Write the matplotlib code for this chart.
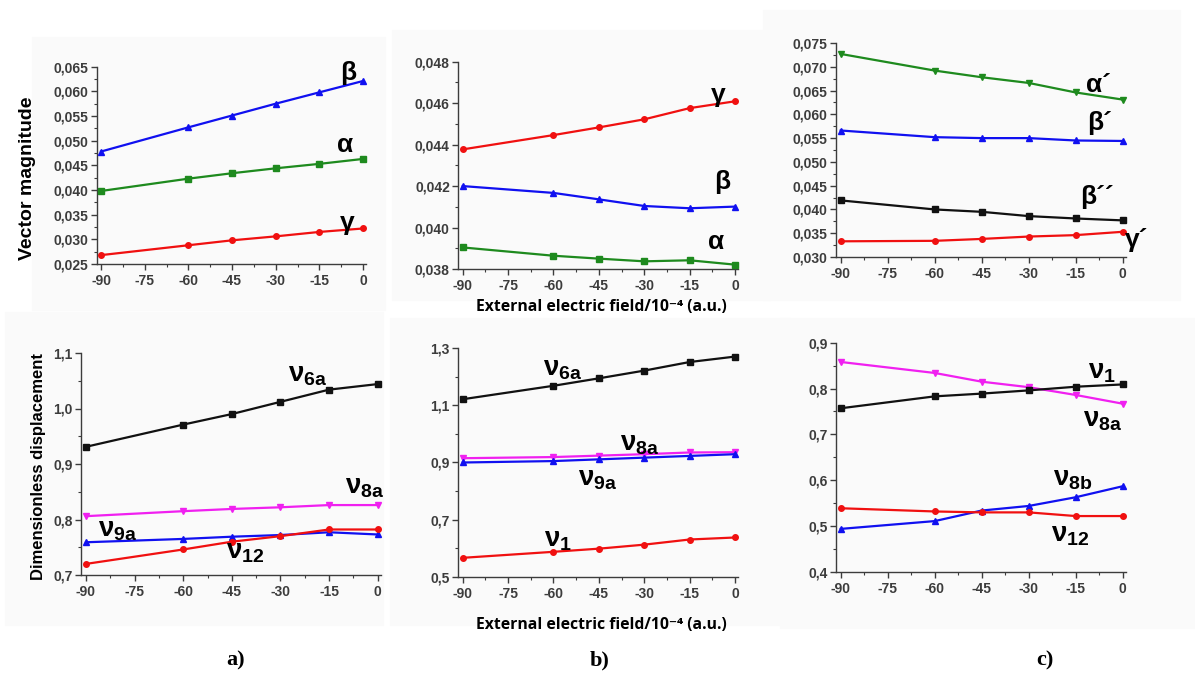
import matplotlib
matplotlib.use("Agg")
import matplotlib.pyplot as plt
from matplotlib.patches import Rectangle
from matplotlib.ticker import MultipleLocator, FuncFormatter

plt.rcParams['font.family'] = ['Liberation Sans', 'DejaVu Sans']
plt.rcParams['font.weight'] = 'bold'
plt.rcParams['mathtext.fontset'] = 'custom'
plt.rcParams['mathtext.rm'] = 'Liberation Sans:bold'
plt.rcParams['mathtext.bf'] = 'Liberation Sans:bold'
plt.rcParams['mathtext.it'] = 'Liberation Sans:bold'

W, H = 1195, 673

# --- data ---
field = [-90, -60, -45, -30, -15, 0]

# top row: vector magnitude
a_beta = [0.0478, 0.0527, 0.0551, 0.0575, 0.0598, 0.0621]
a_alpha = [0.0398, 0.0423, 0.0434, 0.0444, 0.0453, 0.0463]
a_gamma = [0.0268, 0.0288, 0.0298, 0.0306, 0.0315, 0.0322]

b_gamma = [0.04377, 0.04446, 0.04483, 0.04522, 0.04576, 0.04609]
b_beta = [0.04200, 0.04167, 0.04136, 0.04104, 0.04093, 0.04101]
b_alpha = [0.03904, 0.03864, 0.03850, 0.03837, 0.03842, 0.03821]

c_alpha1 = [0.0727, 0.0692, 0.0678, 0.0666, 0.0646, 0.0631]
c_beta1 = [0.0566, 0.0552, 0.0550, 0.0550, 0.0545, 0.0544]
c_beta2 = [0.0419, 0.0400, 0.0395, 0.0386, 0.0381, 0.0377]
c_gamma1 = [0.0333, 0.0334, 0.0338, 0.0343, 0.0346, 0.0353]

# bottom row: dimensionless displacement
d_nu6a = [0.931, 0.971, 0.990, 1.012, 1.034, 1.044]
d_nu8a = [0.806, 0.815, 0.819, 0.822, 0.826, 0.826]
d_nu9a = [0.759, 0.765, 0.769, 0.772, 0.777, 0.773]
d_nu12 = [0.720, 0.746, 0.760, 0.770, 0.782, 0.782]

e_nu6a = [1.121, 1.168, 1.194, 1.221, 1.251, 1.270]
e_nu8a = [0.915, 0.919, 0.924, 0.929, 0.935, 0.936]
e_nu9a = [0.900, 0.905, 0.911, 0.917, 0.923, 0.929]
e_nu1 = [0.567, 0.588, 0.599, 0.613, 0.631, 0.638]

f_nu8a = [0.858, 0.834, 0.815, 0.803, 0.786, 0.767]
f_nu1 = [0.757, 0.783, 0.789, 0.796, 0.804, 0.809]
f_nu8b = [0.494, 0.511, 0.534, 0.544, 0.563, 0.587]
f_nu12 = [0.539, 0.532, 0.530, 0.530, 0.522, 0.522]

BLUE, GREEN, RED, BLACK, MAG = '#1010f0', '#1e8a1e', '#f01010', '#111111', '#f020f0'
TICKC = '#3c3c3c'

fig = plt.figure(figsize=(W / 100, H / 100), dpi=100)

# faint panel backgrounds
for x0, y0, x1, y1 in [(32, 37, 385, 310), (392, 30, 770, 300), (763, 10, 1180, 300),
                       (5, 312, 383, 625), (390, 318, 790, 625), (780, 318, 1195, 628)]:
    fig.patches.append(Rectangle((x0 / W, 1 - y1 / H), (x1 - x0) / W, (y1 - y0) / H,
                                 transform=fig.transFigure, color='#fafafa', zorder=-5))


def make_ax(x90, x0, ylo, yhi, py_lo, py_hi, step, minor, fmt):
    # pixel positions of x=-90 / x=0 and of ylo / yhi give the axes box
    ppu = (x0 - x90) / 90.0
    left = x90 - 1.5 * ppu
    right = x0 + 1.0 * ppu
    ax = fig.add_axes([left / W, 1 - py_lo / H, (right - left) / W, (py_lo - py_hi) / H])
    ax.set_xlim(-91.5, 1)
    ax.set_ylim(ylo, yhi)
    ax.patch.set_alpha(0)
    for s in ('top', 'right'):
        ax.spines[s].set_visible(False)
    for s in ('left', 'bottom'):
        ax.spines[s].set_color(TICKC)
        ax.spines[s].set_linewidth(1.0)
    ax.xaxis.set_major_locator(MultipleLocator(15))
    ax.xaxis.set_minor_locator(MultipleLocator(7.5))
    ax.yaxis.set_major_locator(MultipleLocator(step, offset=ylo % step))
    ax.yaxis.set_minor_locator(MultipleLocator(minor))
    ax.yaxis.set_major_formatter(FuncFormatter(lambda v, p: (fmt % v).replace('.', ',')))
    ax.xaxis.set_major_formatter(FuncFormatter(lambda v, p: '%d' % round(v)))
    ax.tick_params(which='major', length=4, width=1, color=TICKC, labelcolor=TICKC,
                   labelsize=10, pad=2)
    ax.tick_params(axis='x', which='major', pad=3)
    ax.tick_params(which='minor', length=2.5, width=0.8, color=TICKC)
    return ax


def line(ax, y, color, marker):
    ax.plot(field, y, color=color, lw=1.6, marker=marker, ms=4, clip_on=False, zorder=3)


def label(px, py, s, size=19):
    fig.text(px / W, 1 - py / H, s, ha='center', va='center', fontsize=size,
             fontweight='bold', color='black')


def nu(px, py, sub, size=20):
    fig.text(px / W, 1 - py / H, r'$\mathbf{ν}_{\mathbf{%s}}$' % sub, ha='center',
             va='center', fontsize=size, color='black')


# --- top left ---
ax = make_ax(101, 363, 0.025, 0.065, 264, 66.7, 0.005, 0.0025, '%.3f')
line(ax, a_beta, BLUE, '^')
line(ax, a_alpha, GREEN, 's')
line(ax, a_gamma, RED, 'o')
label(348, 73, 'β')
label(345, 145, 'α')
label(347, 223, 'γ')

# --- top middle ---
ax = make_ax(462.7, 735, 0.038, 0.048, 269, 61.7, 0.002, 0.001, '%.3f')
line(ax, b_gamma, RED, 'o')
line(ax, b_beta, BLUE, '^')
line(ax, b_alpha, GREEN, 's')
label(718, 95, 'γ')
label(722, 182, 'β')
label(716, 242, 'α')

# --- top right ---
ax = make_ax(840.7, 1122.7, 0.030, 0.075, 257, 43, 0.005, 0.0025, '%.3f')
line(ax, c_alpha1, GREEN, 'v')
line(ax, c_beta1, BLUE, '^')
line(ax, c_beta2, BLACK, 's')
line(ax, c_gamma1, RED, 'o')
label(1098, 85, 'α´')
label(1100, 123, 'β´')
label(1097, 197, 'β´´')
label(1137, 240, 'γ´')

# --- bottom left ---
ax = make_ax(86, 377.7, 0.7, 1.1, 575, 353, 0.1, 0.05, '%.1f')
line(ax, d_nu6a, BLACK, 's')
line(ax, d_nu8a, MAG, 'v')
line(ax, d_nu9a, BLUE, '^')
line(ax, d_nu12, RED, 'o')
nu(308, 375, '6a')
nu(365, 487, '8a')
nu(118, 530, '9a')
nu(245, 552, '12')

# --- bottom middle ---
ax = make_ax(462.7, 735, 0.5, 1.3, 577, 348, 0.2, 0.1, '%.1f')
line(ax, e_nu6a, BLACK, 's')
line(ax, e_nu8a, MAG, 'v')
line(ax, e_nu9a, BLUE, '^')
line(ax, e_nu1, RED, 'o')
nu(563, 369, '6a')
nu(640, 444, '8a')
nu(598, 479, '9a')
nu(558, 540, '1')

# --- bottom right ---
ax = make_ax(840.7, 1122.7, 0.4, 0.9, 572, 342.7, 0.1, 0.05, '%.1f')
line(ax, f_nu8a, MAG, 'v')
line(ax, f_nu1, BLACK, 's')
line(ax, f_nu8b, BLUE, '^')
line(ax, f_nu12, RED, 'o')
nu(1102, 372, '1')
nu(1103, 420, '8a')
nu(1073, 479, '8b')
nu(1070, 535, '12')

# axis titles
fig.text(28 / W, 1 - 178 / H, 'Vector magnitude', rotation=90, ha='center', va='center',
         fontsize=14, fontweight='bold')
fig.text(39 / W, 1 - 466 / H, 'Dimensionless displacement', rotation=90, ha='center',
         va='center', fontsize=12, fontweight='bold')
for py in (307, 625):
    fig.text(601 / W, 1 - py / H, 'External electric field/10⁻⁴ (a.u.)', ha='center',
             va='center', fontsize=11.3, fontweight='bold', family=['Open Sans', 'DejaVu Sans'])

for px, s in [(236, 'a)'), (600, 'b)'), (1045, 'c)')]:
    fig.text(px / W, 1 - 660 / H, s, ha='center', va='center', fontsize=16,
             fontweight='bold', family=['Liberation Serif', 'DejaVu Serif'])

# make sure the tick labels come out bold
fig.canvas.draw()
for a in fig.axes:
    for lab in a.get_xticklabels() + a.get_yticklabels():
        lab.set_fontweight('bold')

fig.savefig('out.png', dpi=100)
